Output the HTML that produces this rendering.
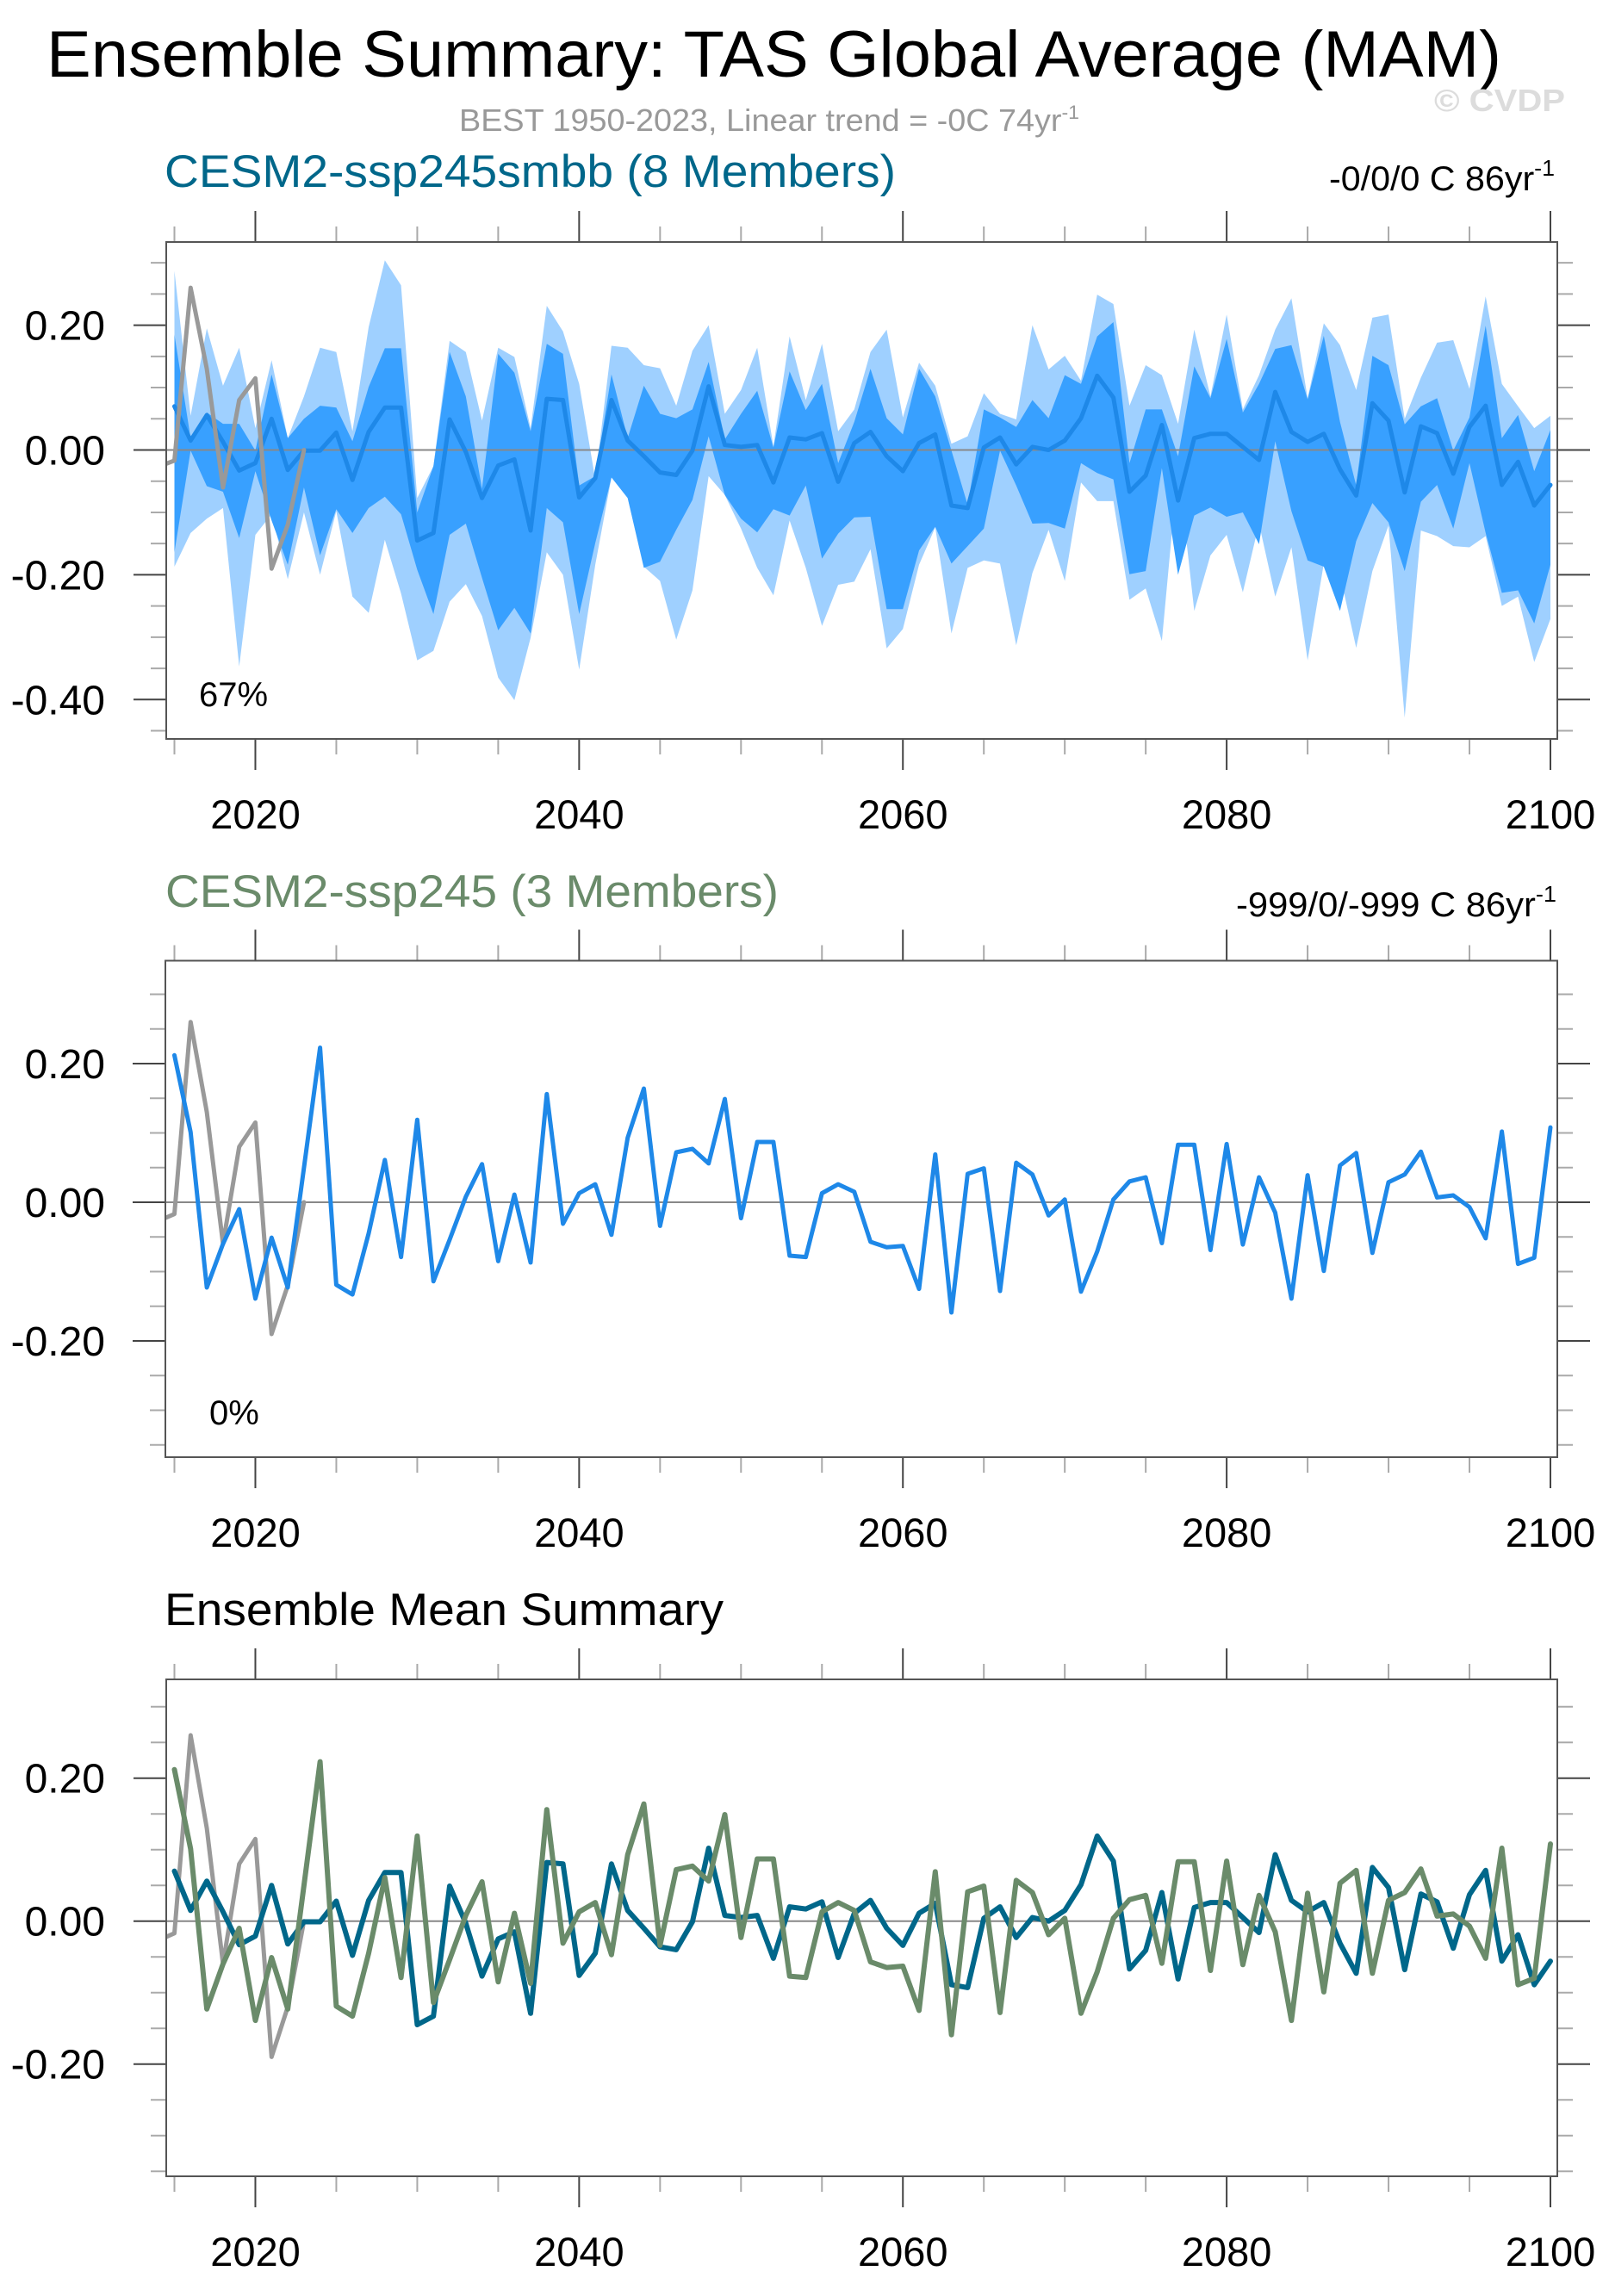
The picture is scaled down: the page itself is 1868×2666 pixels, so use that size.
<!DOCTYPE html>
<html><head><meta charset="utf-8"><title>Ensemble Summary: TAS Global Average (MAM)</title>
<style>html,body{margin:0;padding:0;background:#fff}svg{display:block;font-family:"Liberation Sans",Arial,sans-serif}</style>
</head><body>
<svg id="fig" xmlns="http://www.w3.org/2000/svg" width="1868" height="2666" viewBox="0 0 1868 2666">
<rect width="1868" height="2666" fill="#fff"/>
<text x="54" y="89" font-size="76" textLength="1689" lengthAdjust="spacingAndGlyphs" fill="#000">Ensemble Summary: TAS Global Average (MAM)</text>
<text x="533" y="152" font-size="36" fill="#999" textLength="720" lengthAdjust="spacingAndGlyphs">BEST 1950-2023, Linear trend = -0C 74yr<tspan dy="-14" font-size="22">-1</tspan></text>
<text x="1665" y="129" font-size="36" font-weight="bold" fill="#dcdcdc" textLength="152" lengthAdjust="spacingAndGlyphs">© CVDP</text>

<text x="191" y="217" font-size="53" fill="#00678a" textLength="849" lengthAdjust="spacingAndGlyphs">CESM2-ssp245smbb (8 Members)</text>
<text x="1543" y="221" font-size="40" fill="#000" textLength="262" lengthAdjust="spacingAndGlyphs">-0/0/0 C 86yr<tspan dy="-17" font-size="26">-1</tspan></text>

<text x="192" y="1053" font-size="53" fill="#6a8b6a" textLength="712" lengthAdjust="spacingAndGlyphs">CESM2-ssp245 (3 Members)</text>
<text x="1435" y="1064" font-size="40" fill="#000" textLength="372" lengthAdjust="spacingAndGlyphs">-999/0/-999 C 86yr<tspan dy="-17" font-size="26">-1</tspan></text>

<text x="191" y="1887" font-size="53" fill="#000" textLength="649" lengthAdjust="spacingAndGlyphs">Ensemble Mean Summary</text>
<g id="plots"></g>
</svg>
<script>
const years = Array.from({length: 86}, (_, i) => 2015 + i);
const obsYears = [2014, 2015, 2016, 2017, 2018, 2019, 2020, 2021, 2022, 2023];
const obsValues = [-0.027, -0.017, 0.26, 0.13, -0.06, 0.08, 0.115, -0.19, -0.12, 0.0];
const smbbMean = [0.070,0.015,0.056,0.013,-0.033,-0.021,0.050,-0.032,-0.001,-0.001,
 0.028,-0.048,0.029,0.068,0.068,-0.145,-0.133,0.049,-0.003,-0.077,
 -0.025,-0.015,-0.129,0.082,0.080,-0.076,-0.045,0.080,0.015,-0.010,
 -0.036,-0.040,-0.001,0.102,0.008,0.005,0.008,-0.052,0.020,0.017,
 0.027,-0.051,0.011,0.029,-0.010,-0.034,0.011,0.025,-0.089,-0.093,
 0.004,0.020,-0.023,0.005,0.000,0.015,0.051,0.119,0.084,-0.067,
 -0.041,0.040,-0.081,0.019,0.026,0.026,0.005,-0.016,0.093,0.029,
 0.013,0.026,-0.031,-0.073,0.075,0.047,-0.068,0.038,0.027,-0.038,
 0.037,0.071,-0.056,-0.019,-0.089,-0.056];
const ssp245Mean = [0.212,0.101,-0.123,-0.060,-0.010,-0.139,-0.051,-0.123,0.050,0.223,
 -0.119,-0.133,-0.045,0.061,-0.079,0.119,-0.114,-0.054,0.008,0.055,
 -0.085,0.011,-0.087,0.156,-0.031,0.013,0.026,-0.047,0.093,0.164,
 -0.034,0.072,0.077,0.056,0.149,-0.023,0.087,0.087,-0.077,-0.079,
 0.013,0.026,0.015,-0.057,-0.065,-0.063,-0.125,0.069,-0.159,0.041,
 0.049,-0.128,0.057,0.040,-0.019,0.004,-0.129,-0.071,0.004,0.030,
 0.036,-0.059,0.083,0.083,-0.069,0.084,-0.061,0.036,-0.015,-0.139,
 0.039,-0.099,0.053,0.071,-0.073,0.029,0.040,0.073,0.007,0.010,
 -0.007,-0.052,0.102,-0.089,-0.080,0.108];
const rangeMax = [0.287,0.055,0.195,0.103,0.164,0.035,0.144,0.019,0.086,0.164,
 0.157,0.030,0.197,0.304,0.264,-0.077,-0.026,0.175,0.157,0.047,
 0.164,0.149,0.035,0.231,0.190,0.106,-0.047,0.167,0.164,0.136,
 0.131,0.071,0.159,0.200,0.058,0.096,0.164,0.006,0.182,0.080,
 0.170,0.030,0.065,0.157,0.193,0.052,0.140,0.103,0.010,0.022,
 0.091,0.058,0.049,0.200,0.129,0.151,0.111,0.249,
 0.234,0.071,0.136,0.120,0.042,0.193,0.086,0.217,0.065,0.120,
 0.193,0.243,0.083,0.203,0.168,0.096,0.212,0.217,0.050,0.116,
 0.172,0.176,0.098,0.246,0.106,0.070,0.035,0.055];
const p67High = [0.185,0.019,0.060,0.042,0.042,-0.001,0.121,0.019,0.050,0.071,
 0.068,0.014,0.101,0.163,0.163,-0.100,-0.026,0.157,0.086,-0.062,
 0.154,0.124,0.030,0.170,0.154,-0.057,-0.042,0.121,0.019,0.103,
 0.058,0.051,0.065,0.141,0.017,0.058,0.095,0.004,0.126,0.064,
 0.106,-0.021,0.045,0.130,0.051,0.025,0.130,0.086,-0.001,-0.088,
 0.065,0.052,0.037,0.080,0.051,0.120,0.106,0.182,
 0.205,-0.021,0.065,0.065,-0.010,0.134,0.083,0.178,0.060,0.106,
 0.162,0.168,0.081,0.183,0.045,-0.057,0.151,0.136,0.041,0.070,
 0.083,-0.001,0.052,0.199,0.019,0.056,-0.034,0.032];
const p67Low = [-0.164,-0.001,-0.058,-0.067,-0.141,-0.034,-0.113,-0.184,-0.060,-0.169,
 -0.095,-0.133,-0.093,-0.075,-0.103,-0.192,-0.263,-0.136,-0.118,-0.205,
 -0.289,-0.253,-0.294,-0.093,-0.116,-0.263,-0.149,-0.044,-0.077,-0.189,
 -0.179,-0.128,-0.080,0.022,-0.072,-0.110,-0.132,-0.095,-0.105,-0.057,
 -0.174,-0.134,-0.108,-0.107,-0.255,-0.255,-0.161,-0.123,-0.182,-0.154,
 -0.126,-0.001,-0.057,-0.118,-0.117,-0.126,-0.021,-0.037,
 -0.047,-0.199,-0.194,-0.029,-0.200,-0.105,-0.092,-0.107,-0.100,-0.151,
 0.014,-0.098,-0.177,-0.187,-0.258,-0.146,-0.085,-0.116,-0.194,-0.083,
 -0.056,-0.126,-0.021,-0.133,-0.229,-0.225,-0.278,-0.184];
const rangeMin = [-0.187,-0.133,-0.110,-0.093,-0.347,-0.136,-0.103,-0.207,-0.100,-0.200,
 -0.098,-0.235,-0.261,-0.144,-0.230,-0.337,-0.322,-0.243,-0.215,-0.266,
 -0.365,-0.401,-0.301,-0.164,-0.200,-0.352,-0.184,-0.044,-0.077,-0.187,
 -0.210,-0.304,-0.225,-0.042,-0.072,-0.126,-0.189,-0.233,-0.113,-0.189,
 -0.282,-0.216,-0.211,-0.159,-0.318,-0.287,-0.184,-0.124,-0.294,-0.189,
 -0.177,-0.182,-0.313,-0.197,-0.128,-0.210,-0.052,-0.082,
 -0.082,-0.240,-0.222,-0.306,-0.026,-0.258,-0.169,-0.136,-0.228,-0.118,
 -0.235,-0.156,-0.337,-0.182,-0.200,-0.317,-0.194,-0.121,-0.429,-0.129,
 -0.138,-0.154,-0.156,-0.138,-0.250,-0.235,-0.340,-0.271];
const xTickYears = [2015,2020,2025,2030,2035,2040,2045,2050,2055,2060,2065,2070,2075,2080,2085,2090,2095,2100];
const xLabelYears = [2020, 2040, 2060, 2080, 2100];
const yLabelsP1 = ["0.20", "0.00", "-0.20", "-0.40"];
const yLabelValsP1 = [0.2, 0, -0.2, -0.4];
const yLabelsP23 = ["0.20", "0.00", "-0.20"];
const yLabelValsP23 = [0.2, 0, -0.2];

const NS = 'http://www.w3.org/2000/svg';
const root = document.getElementById('plots');
function mk(tag, attrs, parent) {
  const e = document.createElementNS(NS, tag);
  for (const k in attrs) e.setAttribute(k, attrs[k]);
  (parent || root).appendChild(e);
  return e;
}
function xOf(yr) { return 202.5 + (yr - 2015) * 18.794; }

function panel(id, box, zeroY, pxPerUnit, vTop, vBot, labels, labelVals) {
  const g = mk('g', {});
  
  
  const yOf = v => zeroY - v * pxPerUnit;
  const clip = mk('clipPath', {id: id + '-clip'}, g);
  mk('rect', {x: box.x0, y: box.y0, width: box.x1 - box.x0, height: box.y1 - box.y0}, clip);
  const data = mk('g', {'clip-path': 'url(#' + id + '-clip)'}, g);
  
  
  const tg = mk('g', {}, g);
  
  
  xTickYears.forEach(yr => {
    const major = yr % 20 === 0;
    const x = xOf(yr), len = major ? 36 : 18;
    const col = major ? '#444' : '#aaa';
    mk('line', {x1: x, x2: x, y1: box.y0, y2: box.y0 - len, stroke: col, 'stroke-width': 2}, tg);
    mk('line', {x1: x, x2: x, y1: box.y1, y2: box.y1 + len, stroke: col, 'stroke-width': 2}, tg);
  });
  for (let k = Math.floor(vTop / 0.05); k * 0.05 >= vBot - 1e-9; k--) {
    const v = k * 0.05, y = yOf(v);
    const major = k % 4 === 0;
    const len = major ? 38 : 18, col = major ? '#444' : '#aaa';
    mk('line', {x1: box.x0, x2: box.x0 - len, y1: y, y2: y, stroke: col, 'stroke-width': 2}, tg);
    mk('line', {x1: box.x1, x2: box.x1 + len, y1: y, y2: y, stroke: col, 'stroke-width': 2}, tg);
  }
  labels.forEach((t, i) => {
    const e = mk('text', {x: 122, y: yOf(labelVals[i]) + 17, 'font-size': 48, 'text-anchor': 'end', fill: '#000'}, g);
    
    
    e.textContent = t;
  });
  xLabelYears.forEach(yr => {
    const e = mk('text', {x: xOf(yr), y: box.y1 + 104, 'font-size': 47, 'text-anchor': 'middle', fill: '#000'}, g);
    
    
    e.textContent = String(yr);
  });
  return {g, data, yOf, box};
}
function band(P, hi, lo, color, name) {
  let d = '';
  years.forEach((yr, i) => { d += (i ? 'L' : 'M') + xOf(yr).toFixed(1) + ',' + P.yOf(hi[i]).toFixed(1); });
  for (let i = years.length - 1; i >= 0; i--) d += 'L' + xOf(years[i]).toFixed(1) + ',' + P.yOf(lo[i]).toFixed(1);
  const e = mk('path', {d: d + 'Z', fill: color}, P.data);
  
  
}
function line(P, xs, vals, color, w, name) {
  const d = xs.map((yr, i) => (i ? 'L' : 'M') + xOf(yr).toFixed(1) + ',' + P.yOf(vals[i]).toFixed(1)).join('');
  const e = mk('path', {d, fill: 'none', stroke: color, 'stroke-width': w, 'stroke-linejoin': 'round', 'stroke-linecap': 'round'}, P.data);
  
  
}
function zero(P) {
  const y = P.yOf(0);
  const e = mk('line', {x1: P.box.x0, x2: P.box.x1, y1: y, y2: y, stroke: '#888', 'stroke-width': 2}, P.data);
  
  
}
function frame(P) {
  const e = mk('rect', {x: P.box.x0, y: P.box.y0, width: P.box.x1 - P.box.x0, height: P.box.y1 - P.box.y0, fill: 'none', stroke: '#555', 'stroke-width': 2}, P.g);
  
  
}
function note(P, x, y, t, name) {
  const e = mk('text', {x, y, 'font-size': 40, fill: '#000'}, P.g);
  
  
  e.textContent = t;
}

const P1 = panel('panel1', {x0: 193, x1: 1808, y0: 281, y1: 858}, 522.5, 724.5, 0.333, -0.463, yLabelsP1, yLabelValsP1);
band(P1, rangeMax, rangeMin, '#9fd0ff', 'ensemble-range-band');
band(P1, p67High, p67Low, '#38a0ff', 'ensemble-67pct-band');
zero(P1);
line(P1, years, smbbMean, '#1e88e8', 5, 'smbb-ensemble-mean-line');
line(P1, obsYears, obsValues, '#999', 5, 'observations-line');
frame(P1);
note(P1, 231, 820, '67%', 'panel1-percent-label');

const P2 = panel('panel2', {x0: 192, x1: 1808, y0: 1115.5, y1: 1692}, 1396, 805, 0.348, -0.368, yLabelsP23, yLabelValsP23);
zero(P2);
line(P2, obsYears, obsValues, '#999', 5, 'observations-line');
line(P2, years, ssp245Mean, '#1e88e8', 5, 'ssp245-ensemble-mean-line');
frame(P2);
note(P2, 243, 1654, '0%', 'panel2-percent-label');

const P3 = panel('panel3', {x0: 193, x1: 1808, y0: 1950, y1: 2527}, 2230.7, 830, 0.338, -0.357, yLabelsP23, yLabelValsP23);
zero(P3);
line(P3, obsYears, obsValues, '#999', 5, 'observations-line');
line(P3, years, smbbMean, '#00678a', 6, 'smbb-mean-line');
line(P3, years, ssp245Mean, '#6a8b6a', 6, 'ssp245-mean-line');
frame(P3);
</script>
</body></html>
